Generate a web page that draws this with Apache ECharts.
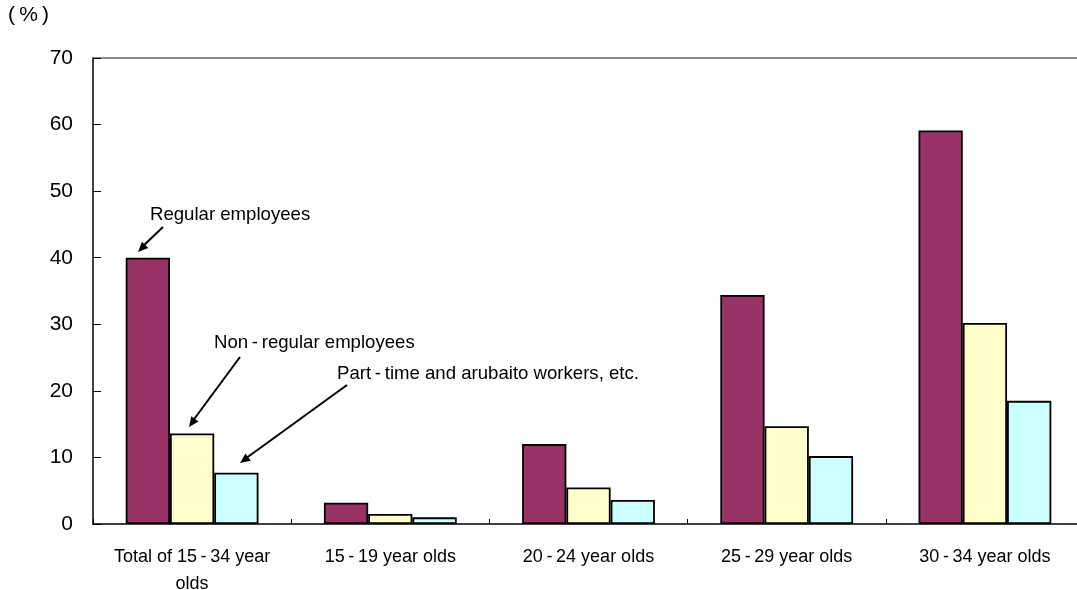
<!DOCTYPE html>
<html>
<head>
<meta charset="utf-8">
<script src="https://cdn.jsdelivr.net/npm/echarts@6/dist/echarts.min.js"></script>
<style>
  html, body { margin: 0; padding: 0; background: #fff; }
  #chart { width: 1077px; height: 590px; }
</style>
</head>
<body>
<div id="chart"></div>
<script>
// thin spaces round the hyphens, like the original typesetting
var categories = ['Total of 15\u2009-\u200934 year\nolds', '15\u2009-\u200919 year olds', '20\u2009-\u200924 year olds', '25\u2009-\u200929 year olds', '30\u2009-\u200934 year olds'];
var regular = [40.0, 3.2, 12.0, 34.4, 59.1];
var nonRegular = [13.6, 1.5, 5.5, 14.7, 30.2];
var partTime = [7.7, 1.0, 3.6, 10.2, 18.5];
var seriesNames = ['Regular employees', 'Non\u2009-\u2009regular employees', 'Part\u2009-\u2009time and arubaito workers, etc.'];
var yTicks = [0, 10, 20, 30, 40, 50, 60, 70];

var font = 'Liberation Sans, Arial, sans-serif';
var myChart = echarts.init(document.getElementById('chart'));

function barSeries(name, data, color) {
    return {
        name: name,
        type: 'bar',
        data: data,
        barGap: '0%',
        barCategoryGap: '33%',
        itemStyle: { color: color, borderColor: '#000', borderWidth: 1.8 },
        animation: false
    };
}

function arrow(x1, y1, x2, y2) {
    return {
        type: 'line',
        shape: { x1: x1, y1: y1, x2: x2, y2: y2 },
        style: { stroke: '#000', lineWidth: 2 }
    };
}
function head(x1, y1, x2, y2) {
    var a = Math.atan2(y2 - y1, x2 - x1), L = 11, w = 0.42;
    return {
        type: 'polygon',
        shape: { points: [[x2, y2],
            [x2 - L * Math.cos(a - w), y2 - L * Math.sin(a - w)],
            [x2 - L * Math.cos(a + w), y2 - L * Math.sin(a + w)]] },
        style: { fill: '#000' }
    };
}
function label(text, x, y) {
    return {
        type: 'text', left: x, top: y,
        style: { text: text, font: '18.6px ' + font, fill: '#000' }
    };
}

myChart.setOption({
    backgroundColor: '#fff',
    animation: false,
    grid: { left: 93, top: 58, width: 991, height: 466, outerBoundsMode: 'none', containLabel: false },
    xAxis: [{
        type: 'category',
        data: categories,
        axisLine: { lineStyle: { color: '#000', width: 1.5 } },
        axisTick: { show: true, inside: true, length: 5, lineStyle: { color: '#000' } },
        axisLabel: { color: '#000', fontSize: 18, fontFamily: font, margin: 20, lineHeight: 27, interval: 0, hideOverlap: false }
    }, {
        type: 'category',
        position: 'top',
        data: categories,
        axisLine: { lineStyle: { color: '#666', width: 1.5 } },
        axisTick: { show: false },
        axisLabel: { show: false }
    }],
    yAxis: {
        type: 'value',
        min: yTicks[0],
        max: yTicks[yTicks.length - 1],
        interval: 10,
        axisLine: { show: true, lineStyle: { color: '#000', width: 1.5 } },
        axisTick: { show: true, inside: true, length: 8, lineStyle: { color: '#000' } },
        axisLabel: { color: '#000', fontSize: 21, fontFamily: font, margin: 20 },
        splitLine: { show: false }
    },
    series: [
        barSeries(seriesNames[0], regular, '#993366'),
        barSeries(seriesNames[1], nonRegular, '#FFFFCC'),
        barSeries(seriesNames[2], partTime, '#CCFFFF')
    ],
    graphic: [
        { type: 'text', left: 8, top: 5, style: { text: '(\u2009%\u2009)', font: '21px ' + font, fill: '#000' } },
        label(seriesNames[0], 150, 205),
        arrow(163, 227, 142, 247), head(163, 227, 138, 252),
        label(seriesNames[1], 214, 333),
        arrow(240, 357, 192, 422), head(240, 357, 189, 427),
        label(seriesNames[2], 337, 364),
        arrow(347, 385, 245, 459), head(347, 385, 240, 463)
    ]
});
</script>
</body>
</html>
